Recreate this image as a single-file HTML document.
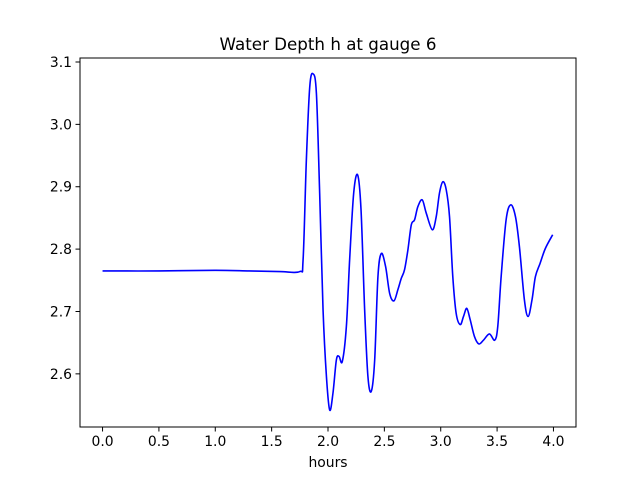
<!DOCTYPE html>
<html><head><meta charset="utf-8"><style>
html,body{margin:0;padding:0;background:#fff;}
svg{display:block;font-family:"DejaVu Sans","Liberation Sans",sans-serif;}
</style></head><body>
<svg id="chart" width="640" height="480" viewBox="0 0 640 480">
<rect width="640" height="480" fill="#fff"/>
<text x="328" y="50" text-anchor="middle" font-size="16.7">Water Depth h at gauge 6</text>
<g id="plot"></g>
<text x="328" y="467" text-anchor="middle" font-size="13.9">hours</text>
</svg>
<script>
const xTicks=[0,0.5,1,1.5,2,2.5,3,3.5,4];
const xTickLabels=["0.0","0.5","1.0","1.5","2.0","2.5","3.0","3.5","4.0"];
const yTicks=[2.6,2.7,2.8,2.9,3.0,3.1];
const yTickLabels=["2.6","2.7","2.8","2.9","3.0","3.1"];
const times=[0,0.5,1.0,1.3,1.572,1.749,1.779,1.808,1.838,1.867,1.897,1.926,1.956,1.986,2.015,2.044,2.074,2.098,2.127,2.163,2.192,2.228,2.263,2.293,2.325,2.354,2.384,2.414,2.443,2.473,2.511,2.547,2.585,2.620,2.650,2.679,2.709,2.739,2.768,2.797,2.836,2.871,2.925,2.960,2.989,3.019,3.049,3.078,3.107,3.137,3.173,3.202,3.231,3.261,3.299,3.338,3.379,3.432,3.479,3.506,3.536,3.580,3.621,3.663,3.698,3.742,3.775,3.810,3.840,3.881,3.928,3.993];
const depth=[2.765,2.765,2.766,2.765,2.764,2.764,2.783,2.943,3.060,3.081,3.050,2.890,2.703,2.596,2.542,2.569,2.622,2.628,2.620,2.676,2.783,2.890,2.919,2.863,2.703,2.596,2.572,2.622,2.756,2.793,2.772,2.729,2.717,2.735,2.753,2.767,2.799,2.839,2.847,2.868,2.879,2.858,2.831,2.852,2.890,2.908,2.895,2.852,2.756,2.697,2.679,2.692,2.705,2.687,2.660,2.648,2.654,2.664,2.654,2.676,2.756,2.847,2.871,2.852,2.804,2.719,2.692,2.719,2.756,2.777,2.801,2.823];
const NS="http://www.w3.org/2000/svg";
const L=80,R=576,T=58,B=427;
const xMin=-0.2,xMax=4.2,yMin=2.5148,yMax=3.1064;
function sx(v){return L+(v-xMin)/(xMax-xMin)*(R-L);}
function sy(v){return B-(v-yMin)/(yMax-yMin)*(B-T);}
const g=document.getElementById('plot');
function mk(tag,attrs){const e=document.createElementNS(NS,tag);for(const k in attrs)e.setAttribute(k,attrs[k]);g.appendChild(e);return e;}
// line
const pts=times.map((t,i)=>[sx(t),sy(depth[i])]);
let d="M"+pts[0][0].toFixed(2)+","+pts[0][1].toFixed(2);
for(let i=0;i<pts.length-1;i++){
 const p0=pts[Math.max(0,i-1)],p1=pts[i],p2=pts[i+1],p3=pts[Math.min(pts.length-1,i+2)];
 const c1=[p1[0]+(p2[0]-p0[0])/6,p1[1]+(p2[1]-p0[1])/6];
 const c2=[p2[0]-(p3[0]-p1[0])/6,p2[1]-(p3[1]-p1[1])/6];
 d+=" C"+c1[0].toFixed(2)+","+c1[1].toFixed(2)+" "+c2[0].toFixed(2)+","+c2[1].toFixed(2)+" "+p2[0].toFixed(2)+","+p2[1].toFixed(2);
}
const line=mk('path',{d:d,fill:'none',stroke:'#0000ff','stroke-width':1.6,'stroke-linejoin':'round'});


const frame=mk('rect',{x:L,y:T,width:R-L,height:B-T,fill:'none',stroke:'#000','stroke-width':1});


xTicks.forEach((v,i)=>{
 const x=sx(v);
 const tk=mk('line',{x1:x,x2:x,y1:B,y2:B+4.5,stroke:'#000','stroke-width':1});
 
 
 const tx=mk('text',{x:x,y:B+19,'text-anchor':'middle','font-size':13.9});
 tx.textContent=xTickLabels[i];
 
 
});
yTicks.forEach((v,i)=>{
 const y=sy(v);
 const tk=mk('line',{x1:L-4.5,x2:L,y1:y,y2:y,stroke:'#000','stroke-width':1});
 
 
 const tx=mk('text',{x:L-8,y:y+5,'text-anchor':'end','font-size':13.9});
 tx.textContent=yTickLabels[i];
 
 
});
</script>
</body></html>
